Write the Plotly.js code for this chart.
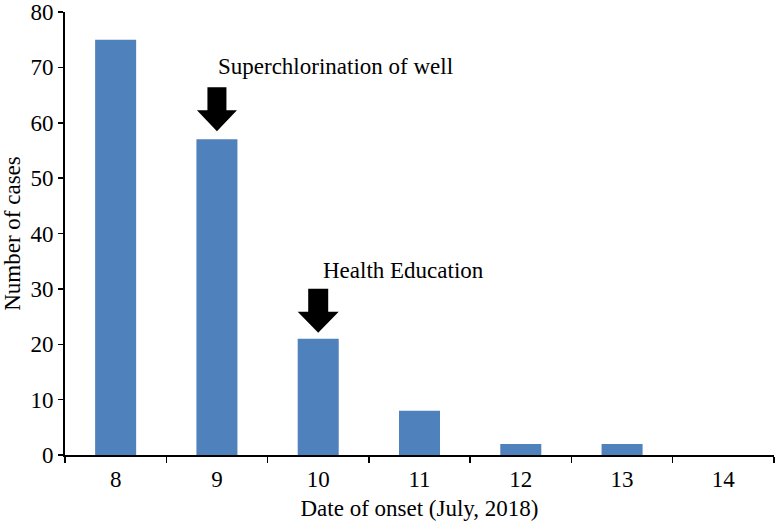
<!DOCTYPE html>
<html>
<head>
<meta charset="utf-8">
<script src="https://cdn.plot.ly/plotly-3.0.1.min.js"></script>
<style>html,body{margin:0;padding:0;background:#fff;}#chart{width:775px;height:521px;}</style>
</head>
<body>
<div id="chart"></div>
<script>
const days = [8, 9, 10, 11, 12, 13, 14];
const cases = [75, 57, 21, 8, 2, 2, 0];
const interventionDays = [9, 10];
const interventionLabels = ["Superchlorination of well", "Health Education"];

const FONT = "Liberation Serif, Times New Roman, serif";
const FS = 23;
const barColor = "#4F81BD";

function caseOn(day) { return cases[days.indexOf(day)]; }

const shapes = [];
const annotations = [];
const arrowGeom = [
  {tip: 8, head: 29, top: 52, shaft: 9.5, half: 20},
  {tip: 6, head: 27, top: 50, shaft: 10, half: 20.5}
];
const textGeom = [{dx: -1, dy: 58}, {dx: 3, dy: 54}];
interventionDays.forEach((d, i) => {
  const g = arrowGeom[i];
  shapes.push({
    type: "path", xref: "x", yref: "y",
    xsizemode: "pixel", ysizemode: "pixel",
    xanchor: d, yanchor: caseOn(d),
    path: `M ${-g.shaft} ${g.top} L ${g.shaft} ${g.top} L ${g.shaft} ${g.head} L ${g.half} ${g.head} L 0 ${g.tip} L ${-g.half} ${g.head} L ${-g.shaft} ${g.head} Z`,
    fillcolor: "#000", line: {width: 0}
  });
  annotations.push({
    x: d, y: caseOn(d), xref: "x", yref: "y",
    text: interventionLabels[i], showarrow: false,
    xanchor: "left", yanchor: "bottom",
    xshift: textGeom[i].dx, yshift: textGeom[i].dy,
    font: {family: FONT, size: FS, color: "#000"}
  });
});

const trace = {
  type: "bar", x: days, y: cases,
  marker: {color: barColor, line: {width: 0}},
  width: 0.405, hoverinfo: "skip"
};

const layout = {
  width: 775, height: 521,
  margin: {l: 65, r: 1, t: 12, b: 66},
  paper_bgcolor: "#fff", plot_bgcolor: "#fff",
  font: {family: FONT, size: FS, color: "#000"},
  showlegend: false,
  xaxis: {
    range: [7.5, 14.5], tickvals: days, ticktext: days.map(String),
    ticks: "", showgrid: false, zeroline: false,
    showline: true, linecolor: "#000", linewidth: 2,
    ticklabelstandoff: 2,
    minor: {tick0: 7.5, dtick: 1, ticks: "outside", ticklen: 6, tickwidth: 1.5, tickcolor: "#000", showgrid: false},
    tickfont: {family: FONT, size: FS},
    title: {text: "Date of onset (July, 2018)", font: {family: FONT, size: FS}, standoff: 9}
  },
  yaxis: {
    range: [0, 80], dtick: 10, tick0: 0,
    ticks: "outside", ticklen: 5, tickwidth: 1.5, tickcolor: "#000",
    showgrid: false, zeroline: false,
    showline: true, linecolor: "#000", linewidth: 2,
    tickfont: {family: FONT, size: FS},
    title: {text: "Number of cases", font: {family: FONT, size: FS}, standoff: 4}
  },
  shapes: shapes,
  annotations: annotations
};

Plotly.newPlot("chart", [trace], layout, {displayModeBar: false, staticPlot: true});
</script>
</body>
</html>
